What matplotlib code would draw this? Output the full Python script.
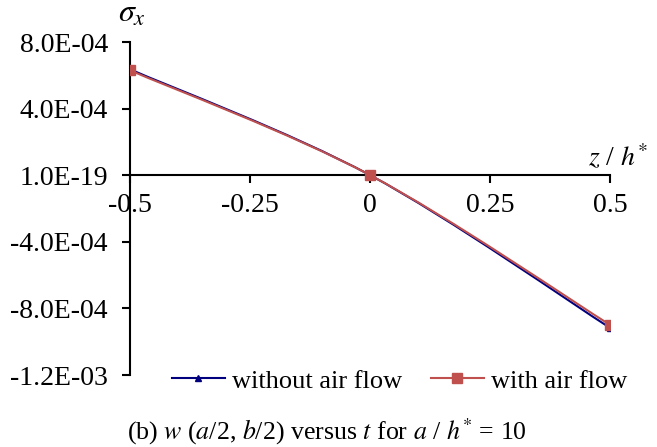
import matplotlib
matplotlib.use("Agg")
import matplotlib.pyplot as plt
from matplotlib.path import Path
from matplotlib.patches import PathPatch
import numpy as np

# ---------------- data ----------------
z = [-0.5, 0.0, 0.5]
sigma_no_air = [6.36e-04, 0.0, -9.18e-04]
sigma_air = [6.30e-04, 0.0, -9.00e-04]
y_ticks = [8.0e-04, 4.0e-04, 0.0, -4.0e-04, -8.0e-04, -1.2e-03]
y_tick_labels = ["8.0E-04", "4.0E-04", "1.0E-19", "-4.0E-04", "-8.0E-04", "-1.2E-03"]
x_ticks = [-0.5, -0.25, 0.0, 0.25, 0.5]
x_tick_labels = ["-0.5", "-0.25", "0", "0.25", "0.5"]

plt.rcParams['font.family'] = ['Liberation Serif', 'DejaVu Serif']
plt.rcParams['mathtext.fontset'] = 'stix'


def smooth_path(xs, ys):
    # excel-like smoothed line: cubic bezier through the points
    pts = np.column_stack([xs, ys])
    verts = [pts[0]]
    codes = [Path.MOVETO]
    n = len(pts)
    for i in range(n - 1):
        p0 = pts[i - 1] if i > 0 else pts[i]
        p1 = pts[i]
        p2 = pts[i + 1]
        p3 = pts[i + 2] if i + 2 < n else pts[i + 1]
        c1 = p1 + (p2 - p0) / 6.0
        c2 = p2 - (p3 - p1) / 6.0
        verts += [c1, c2, p2]
        codes += [Path.CURVE4] * 3
    return Path(verts, codes)


fig = plt.figure(figsize=(6.57, 4.47), dpi=100)
ax = fig.add_axes([0.198, 0.161, 0.731, 0.745])

navy = "#00007F"
red = "#C0504D"

for ys, col in [(sigma_no_air, navy), (sigma_air, red)]:
    ax.add_patch(PathPatch(smooth_path(z, ys), facecolor="none", edgecolor=col, lw=1.5, zorder=3))

ax.plot(z, sigma_no_air, ls="none", marker="^", ms=4, color=navy, zorder=4)
ax.plot(z, sigma_air, ls="none", marker="s", ms=7, color=red, zorder=5)

# legend handles
h1, = ax.plot([], [], color=navy, lw=1.5, marker="^", ms=4, label="without air flow")
h2, = ax.plot([], [], color=red, lw=1.5, marker="s", ms=7, label="with air flow")

ax.set_xlim(-0.5, 0.5)
ax.set_ylim(-1.2e-03, 8.0e-04)
ax.set_yticks(y_ticks)
ax.set_yticklabels(y_tick_labels)
ax.set_xticks(x_ticks)
ax.set_xticklabels(x_tick_labels)

ax.spines['top'].set_visible(False)
ax.spines['right'].set_visible(False)
ax.spines['bottom'].set_position(('data', 0))
ax.spines['left'].set_linewidth(1.5)
ax.spines['bottom'].set_linewidth(1.5)
ax.tick_params(axis='y', direction='out', length=6, width=1.5, labelsize=20, pad=10)
ax.tick_params(axis='x', direction='out', length=6, width=1.5, labelsize=20, pad=7)

ax.text(-0.525, 8.8e-04, r"$\sigma_x$", fontsize=23, ha="left", va="bottom")
ax.text(0.579, 0.2e-04, r"$z$ / $h^{*}$", fontsize=20, ha="right", va="bottom")

fig.legend(handles=[h1, h2], loc="center", bbox_to_anchor=(0.608, 0.148), ncol=2,
           frameon=False, fontsize=19, handlelength=2.0, columnspacing=1.1,
           handletextpad=0.27)

fig.text(0.498, 0.034, r"(b) $w$ ($a$/2, $b$/2) versus $t$ for $a$ / $h^{*}$ = 10",
         fontsize=18.6, ha="center", va="center")

fig.savefig("out.png", dpi=100)
